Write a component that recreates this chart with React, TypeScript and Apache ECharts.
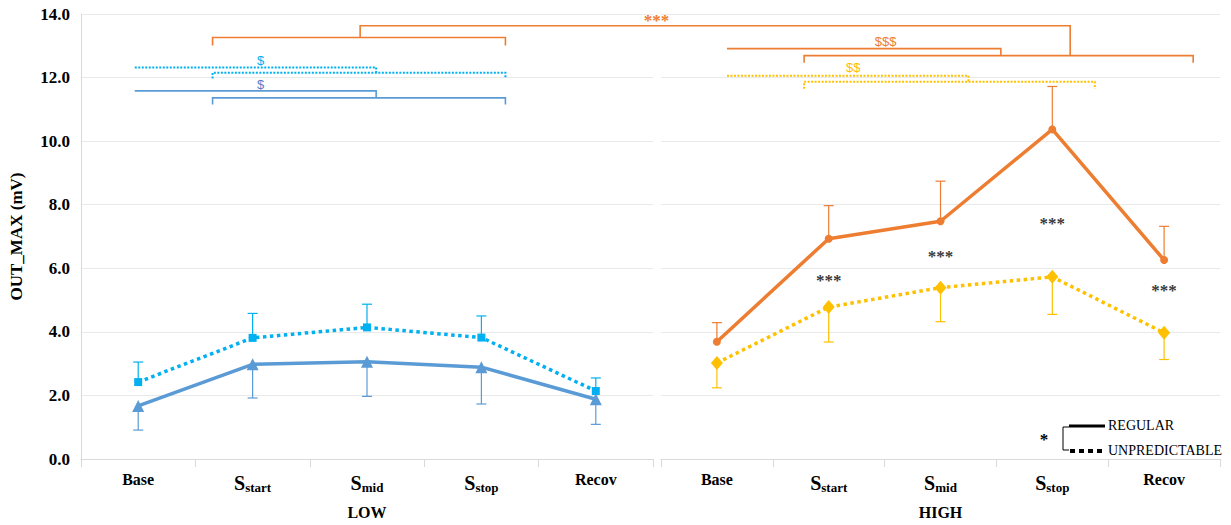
import React, { useEffect, useRef } from "react";
import * as echarts from "echarts";

// Phases of the protocol (an underscore marks the subscript part)
const categories = ["Base", "S_start", "S_mid", "S_stop", "Recov"];
const panelNames = ["LOW", "HIGH"];

// Means and SDs of OUT_MAX (mV)
const lowRegularMean = [1.67, 2.98, 3.06, 2.89, 1.88];
const lowRegularSd = [0.76, 1.06, 1.09, 1.16, 0.79];
const lowUnpredictableMean = [2.42, 3.81, 4.14, 3.82, 2.14];
const lowUnpredictableSd = [0.63, 0.77, 0.73, 0.68, 0.41];
const highRegularMean = [3.69, 6.93, 7.48, 10.37, 6.26];
const highRegularSd = [0.6, 1.04, 1.26, 1.35, 1.06];
const highUnpredictableMean = [3.02, 4.78, 5.39, 5.73, 3.97];
const highUnpredictableSd = [0.78, 1.1, 1.07, 1.18, 0.84];

// Height of the REGULAR vs UNPREDICTABLE markers in the HIGH panel
const highStarLevels: (number | null)[] = [null, 5.61, 6.37, 7.4, 5.29];

// y axis
const yMin = 0;
const yMax = 14;
const yStep = 2;

const C_LOW_REG = "#5b9bd5";
const C_LOW_UNP = "#00b0f0";
const C_HIGH_REG = "#ed7d31";
const C_HIGH_UNP = "#ffc000";

const SERIF = '"Liberation Serif", "Times New Roman", serif';
const SANS = '"Liberation Sans", Arial, sans-serif';

// Comparison brackets: points are [panel, category position, value]
type Pt = [number, number, number];
const brackets: { color: string; dotted: boolean; pts: Pt[] }[] = [
  { color: C_LOW_UNP, dotted: true, pts: [[0, -0.03, 12.32], [0, 2.08, 12.32], [0, 2.08, 12.15]] },
  { color: C_LOW_UNP, dotted: true, pts: [[0, 0.65, 11.97], [0, 0.65, 12.15], [0, 3.21, 12.15], [0, 3.21, 11.97]] },
  { color: C_LOW_REG, dotted: false, pts: [[0, -0.03, 11.58], [0, 2.08, 11.58], [0, 2.08, 11.36]] },
  { color: C_LOW_REG, dotted: false, pts: [[0, 0.65, 11.15], [0, 0.65, 11.36], [0, 3.21, 11.36], [0, 3.21, 11.15]] },
  { color: C_HIGH_REG, dotted: false, pts: [[0, 0.65, 13.01], [0, 0.65, 13.26], [0, 3.21, 13.26], [0, 3.21, 13.01]] },
  { color: C_HIGH_REG, dotted: false, pts: [[0, 1.94, 13.26], [0, 1.94, 13.63], [1, 3.16, 13.63], [1, 3.16, 12.69]] },
  { color: C_HIGH_REG, dotted: false, pts: [[1, 0.78, 12.47], [1, 0.78, 12.69], [1, 4.26, 12.69], [1, 4.26, 12.47]] },
  { color: C_HIGH_REG, dotted: false, pts: [[1, 0.09, 12.91], [1, 2.54, 12.91], [1, 2.54, 12.69]] },
  { color: C_HIGH_UNP, dotted: true, pts: [[1, 0.09, 12.06], [1, 2.25, 12.06], [1, 2.25, 11.87]] },
  { color: C_HIGH_UNP, dotted: true, pts: [[1, 0.78, 11.65], [1, 0.78, 11.87], [1, 3.38, 11.87], [1, 3.38, 11.65]] },
];

const bracketLabels: { text: string; color: string; at: Pt; font: string }[] = [
  { text: "***", color: C_HIGH_REG, at: [0, 4.53, 13.8], font: `bold 17px ${SERIF}` },
  { text: "$$$", color: C_HIGH_REG, at: [1, 1.51, 13.15], font: `13px ${SANS}` },
  { text: "$$", color: C_HIGH_UNP, at: [1, 1.22, 12.33], font: `13px ${SANS}` },
  { text: "$", color: C_LOW_UNP, at: [0, 1.07, 12.53], font: `13px ${SANS}` },
  { text: "$", color: "#5a7cc8", at: [0, 1.07, 11.77], font: `13px ${SANS}` },
];

function categoryLabel(v: string) {
  const [main, sub] = v.split("_");
  return sub ? `{big|${main}}{sub|${sub}}` : `{m|${main}}`;
}

function errorBars(panel: number, mean: number[], sd: number[], dir: number, color: string) {
  return {
    type: "custom",
    xAxisIndex: panel,
    yAxisIndex: panel,
    z: 1,
    silent: true,
    data: mean.map((m, i) => [i, m, m + dir * sd[i]]),
    renderItem: (_p: any, api: any) => {
      const a = api.coord([api.value(0), api.value(1)]);
      const b = api.coord([api.value(0), api.value(2)]);
      const hw = 5;
      const st = { stroke: color, lineWidth: 1.2 };
      return {
        type: "group",
        children: [
          { type: "line", shape: { x1: a[0], y1: a[1], x2: b[0], y2: b[1] }, style: st },
          { type: "line", shape: { x1: b[0] - hw, y1: b[1], x2: b[0] + hw, y2: b[1] }, style: st },
        ],
      };
    },
  };
}

function lineSeries(panel: number, data: number[], color: string, dotted: boolean, symbol: string, size: any) {
  return {
    type: "line",
    xAxisIndex: panel,
    yAxisIndex: panel,
    z: 3,
    data,
    symbol,
    symbolSize: size,
    itemStyle: { color },
    lineStyle: dotted
      ? { color, width: 3.5, type: [3.5, 3.5], cap: "butt" }
      : { color, width: 3.5 },
  };
}

export default function App() {
  const ref = useRef<HTMLDivElement>(null);

  useEffect(() => {
    if (!ref.current) return;
    const chart = echarts.init(ref.current, undefined, { renderer: "svg" });

    const xAxis = panelNames.map((name, i) => ({
      type: "category",
      gridIndex: i,
      data: categories,
      name,
      nameLocation: "middle",
      nameGap: 45,
      nameTextStyle: { fontFamily: SERIF, fontWeight: "bold", fontSize: 16, color: "#000" },
      axisLine: { lineStyle: { color: "#d9d9d9", width: 1 } },
      axisTick: { show: true, interval: 0, length: 8, lineStyle: { color: "#d9d9d9" } },
      axisLabel: {
        interval: 0,
        hideOverlap: false,
        margin: 12,
        formatter: categoryLabel,
        rich: {
          m: { fontFamily: SERIF, fontWeight: "bold", fontSize: 16, color: "#000", padding: [0, 0, 2, 0] },
          big: { fontFamily: SERIF, fontWeight: "bold", fontSize: 20, color: "#000" },
          sub: { fontFamily: SERIF, fontWeight: "bold", fontSize: 13, color: "#000", padding: [10, 0, 0, 0] },
        },
      },
    }));

    const yAxis = panelNames.map((_n, i) => ({
      type: "value",
      gridIndex: i,
      min: yMin,
      max: yMax,
      interval: yStep,
      name: i === 0 ? "OUT_MAX (mV)" : "",
      nameLocation: "middle",
      nameGap: 56,
      nameRotate: 90,
      nameTextStyle: { fontFamily: SERIF, fontWeight: "bold", fontSize: 17, color: "#000" },
      axisLine: { show: i === 0, lineStyle: { color: "#d9d9d9" } },
      axisTick: { show: false },
      axisLabel: {
        show: i === 0,
        margin: 11,
        formatter: (v: number) => v.toFixed(1),
        fontFamily: SERIF,
        fontWeight: "bold",
        fontSize: 17,
        color: "#000",
      },
      splitLine: { lineStyle: { color: "#e9e9e9", width: 1 } },
    }));

    chart.setOption({
      animation: false,
      backgroundColor: "#fff",
      grid: [
        { left: 81, top: 14, width: 572, height: 446 },
        { left: 661, top: 14, width: 559, height: 446 },
      ],
      xAxis,
      yAxis,
      series: [
        errorBars(0, lowRegularMean, lowRegularSd, -1, C_LOW_REG),
        errorBars(0, lowUnpredictableMean, lowUnpredictableSd, 1, C_LOW_UNP),
        errorBars(1, highRegularMean, highRegularSd, 1, C_HIGH_REG),
        errorBars(1, highUnpredictableMean, highUnpredictableSd, -1, C_HIGH_UNP),
        lineSeries(0, lowUnpredictableMean, C_LOW_UNP, true, "rect", 8),
        lineSeries(0, lowRegularMean, C_LOW_REG, false, "triangle", 12),
        lineSeries(1, highUnpredictableMean, C_HIGH_UNP, true, "diamond", [12, 14]),
        lineSeries(1, highRegularMean, C_HIGH_REG, false, "circle", 8),
        {
          type: "scatter",
          xAxisIndex: 1,
          yAxisIndex: 1,
          symbolSize: 0,
          silent: true,
          data: highStarLevels.map((v, i) => (v == null ? [i, "-"] : [i, v])),
          label: {
            show: true,
            position: "inside",
            formatter: "***",
            fontFamily: SERIF,
            fontWeight: "bold",
            fontSize: 17,
            color: "#000",
          },
        },
      ],
    });

    // Brackets and the line-style key, placed through the axes' scales
    const toPx = (p: Pt): [number, number] => {
      const [panel, f, v] = p;
      const a = chart.convertToPixel({ xAxisIndex: panel }, 0) as number;
      const b = chart.convertToPixel({ xAxisIndex: panel }, 1) as number;
      const y = chart.convertToPixel({ yAxisIndex: panel }, v) as number;
      return [a + f * (b - a), y];
    };

    const graphic: any[] = [];
    brackets.forEach((br) => {
      graphic.push({
        type: "polyline",
        silent: true,
        z: 10,
        shape: { points: br.pts.map(toPx) },
        style: {
          stroke: br.color,
          lineWidth: br.dotted ? 2 : 1.6,
          fill: null,
          lineDash: br.dotted ? [2, 1.5] : null,
        },
      });
    });
    bracketLabels.forEach((lb) => {
      const [x, y] = toPx(lb.at);
      graphic.push({
        type: "text",
        silent: true,
        z: 11,
        x,
        y,
        style: { text: lb.text, fill: lb.color, font: lb.font, align: "center", verticalAlign: "middle" },
      });
    });

    // Key: solid = REGULAR, dotted = UNPREDICTABLE
    graphic.push(
      {
        type: "text",
        x: 1044,
        y: 439,
        style: { text: "*", fill: "#000", font: `bold 17px ${SERIF}`, align: "center", verticalAlign: "middle" },
      },
      {
        type: "polyline",
        shape: { points: [[1069, 427], [1063, 427], [1063, 450], [1069, 450]] },
        style: { stroke: "#000", lineWidth: 1, fill: null },
      },
      {
        type: "line",
        shape: { x1: 1069, y1: 426, x2: 1105, y2: 426 },
        style: { stroke: "#000", lineWidth: 3 },
      },
      {
        type: "line",
        shape: { x1: 1070, y1: 451, x2: 1104, y2: 451 },
        style: { stroke: "#000", lineWidth: 4, lineDash: [5, 4] },
      },
      {
        type: "text",
        x: 1108,
        y: 425,
        style: { text: "REGULAR", fill: "#000", font: `14px ${SERIF}`, align: "left", verticalAlign: "middle" },
      },
      {
        type: "text",
        x: 1108,
        y: 450,
        style: { text: "UNPREDICTABLE", fill: "#000", font: `14px ${SERIF}`, align: "left", verticalAlign: "middle" },
      }
    );

    chart.setOption({ graphic });

    return () => chart.dispose();
  }, []);

  return (
    <div
      ref={ref}
      style={{ position: "fixed", left: 0, top: 0, width: 1231, height: 525, background: "#fff" }}
    />
  );
}
